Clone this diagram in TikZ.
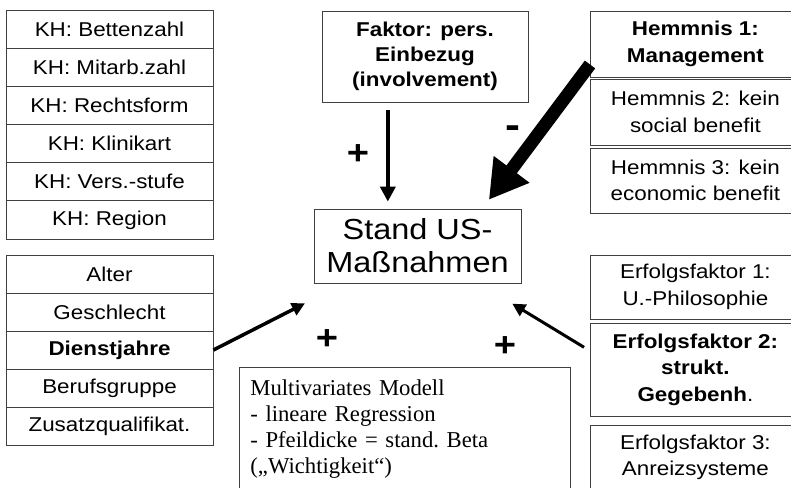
\documentclass[tikz,border=0pt]{standalone}
\usepackage{fontspec}
\setmainfont[FakeStretch=1.12]{Liberation Sans}
\newfontfamily\modelfont{Liberation Serif}
\usetikzlibrary{arrows.meta, positioning}
\def\rowsep{38.15}

\begin{document}
\begin{tikzpicture}[x=1pt, y=-1pt, >={Triangle[length=13pt,width=13pt]}]
    \tikzstyle{factor}=[draw=black!75, line width=0.8pt, align=center, inner sep=0pt, font=\fontsize{20}{26.5}\selectfont]
    \tikzstyle{strong}=[font=\fontsize{20}{26.5}\selectfont\bfseries]
    \tikzstyle{kh row}=[factor, minimum width=207pt, minimum height=38.15pt]
    \tikzstyle{pers row}=[factor, minimum width=207pt, minimum height=38pt]
    \tikzstyle{right box}=[factor, minimum width=210pt, anchor=west]
    \tikzstyle{sign}=[inner sep=0pt, font=\fontsize{34}{34}\selectfont\bfseries]
    \tikzstyle{effect}=[->, line width=3.5pt]

    \useasboundingbox (0,0) rectangle (791,487);
    \clip (0,0) rectangle (791,487);

    % Draw the hospital (KH) variables
    \foreach \name / \txt in {1/Bettenzahl, 2/Mitarb.zahl, 3/Rechtsform, 4/Klinikart, 5/Vers.-stufe, 6/Region}
        \node[kh row] (K-\name) at (109.5, {29.1+\rowsep*(\name-1)}) {KH: \txt};

    % Draw the person variables
    \foreach \name / \txt in {1/Alter, 2/Geschlecht, 3/\textbf{Dienstjahre}, 4/Berufsgruppe, 5/Zusatzqualifikat.}
        \node[pers row] (P-\name) at (109.5, {274+38*(\name-1)}) {\txt};

    % Dependent variable and the direct factor above it
    \node[factor, minimum width=207pt, minimum height=74pt, font=\fontsize{29}{33}\selectfont] (stand) at (417.5,246) {Stand US-\\Maßnahmen};
    \node[factor, strong, minimum width=206pt, minimum height=91pt, font=\fontsize{20}{25}\selectfont\bfseries] (faktor) at (425,56.5) {Faktor: pers.\\Einbezug\\(involvement)};

    % Obstacles (Hemmnisse) and success factors on the right
    \node[right box, strong, minimum height=66pt] (H-1) at (590,44) {Hemmnis 1:\\Management};
    \node[right box, minimum height=66pt] (H-2) at (590,112) {Hemmnis 2: kein\\social benefit};
    \node[right box, minimum height=65pt] (H-3) at (590,180.5) {Hemmnis 3: kein\\economic benefit};
    \node[right box, minimum height=64pt] (E-1) at (590,287) {Erfolgsfaktor 1:\\U.-Philosophie};
    \node[right box, strong, minimum height=93pt] (E-2) at (590,369.5) {Erfolgsfaktor 2:\\strukt.\\Gegebenh\mdseries.};
    \node[right box, minimum height=65pt] (E-3) at (590,457.5) {Erfolgsfaktor 3:\\Anreizsysteme};

    % Legend of the model
    \node[draw=black!75, line width=0.8pt, anchor=north west, text width=309pt, inner xsep=11pt, inner ysep=12.5pt, align=left, font=\modelfont\fontsize{22.7}{26}\selectfont\frenchspacing] (modell) at (239,367)
        {Multivariates Modell\\- lineare Regression\\- Pfeildicke = stand.\ Beta\\(„Wichtigkeit“)};

    % Connect the factors with the dependent variable
    \draw[effect, line width=4pt, -{Triangle[length=15pt,width=15pt]}, shorten <=8pt, shorten >=7pt] (faktor.231) -- (faktor.231 |- stand.north);
    \draw[line width=13pt, -{Triangle[length=38pt,width=42pt]}, shorten >=11pt] (H-1.191) -- (stand.30);
    \draw[effect, shorten >=44pt] (P-3.east) -- (stand);
    \draw[effect, line width=3pt, shorten <=7pt, shorten >=39pt] (E-2.170) -- (stand);

    % Signs of the effects
    \node[sign] (s-1) at (358,155) {+};
    \node[sign, font=\fontsize{40}{40}\selectfont\bfseries] (s-2) at (513,132) {-};
    \node[sign] (s-3) at (327,340) {+};
    \node[sign] (s-4) at (505,347) {+};
\end{tikzpicture}
\end{document}
